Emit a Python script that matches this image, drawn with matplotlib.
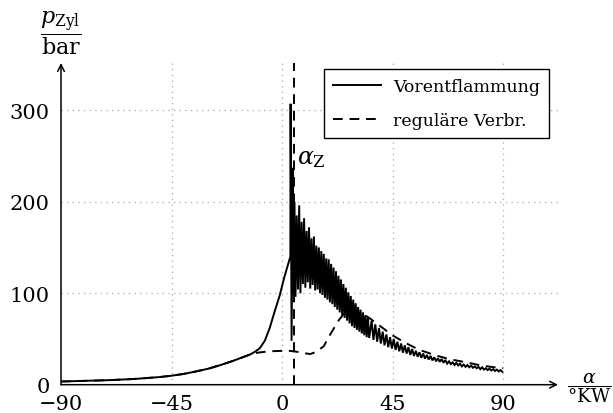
import matplotlib
matplotlib.use("Agg")
import matplotlib.pyplot as plt
import numpy as np

plt.rcParams['font.family'] = ['DejaVu Serif']
plt.rcParams['mathtext.fontset'] = 'dejavuserif'

# ---- data ----
# compression part (shared by both curves until ~ -13 °KW)
comp_x = [-90, -80, -70, -60, -50, -45, -40, -35, -30, -25, -20, -15, -13]
comp_p = [3.5, 4.2, 5.0, 6.3, 8.3, 9.8, 11.8, 14.5, 17.5, 21.5, 26.0, 31.0, 33.0]

# Vorentflammung: steep rise and knocking spike
pre_x = [-11, -9, -7, -5, -3, -1, 1, 2.5, 3.4, 3.5, 3.9, 4.1, 4.4, 4.7]
pre_p = [36, 40, 48, 62, 80, 97, 118, 132, 140, 307, 48, 130, 237, 100]

# knocking oscillation: local maxima and minima
knock_peak_x = [5, 6, 7, 8, 9, 10, 11, 12, 13, 14, 15, 16, 17, 18, 19, 20,
                21, 22, 23, 24, 25, 26, 27, 28, 29, 30, 31, 32, 33, 34, 35,
                36.5, 38.0, 39.5, 41.0, 42.5, 44.0, 45.5, 47.0, 48.5, 50.0, 51.5,
                53.0, 54.5, 56.0, 57.5, 59.0, 60.5, 62.0, 63.5, 65.0, 66.5, 68.0,
                69.5, 71.0, 72.5, 74.0, 75.5, 77.0, 78.5, 80.0, 81.5, 83.0, 84.5,
                86.0, 87.5, 89.0]
knock_peak_p = [200, 185, 196, 178, 182, 168, 172, 160, 162, 152, 150, 146, 143,
                138, 137, 132, 128, 124, 119, 115, 110, 106, 101, 97, 93, 89, 85,
                82, 79, 76, 73,
                70, 66, 62, 58, 55, 52, 50, 47, 45, 43, 41,
                39, 37, 35.5, 34, 32.5, 31.5, 30, 29, 28, 27, 25.5,
                24.5, 24, 23, 22, 21.5, 21, 20, 19.5, 19, 18, 17.5,
                17, 16.5, 16]
knock_trough_x = [5.5, 6.5, 7.5, 8.5, 9.5, 10.5, 11.5, 12.5, 13.5, 14.5, 15.5,
                  16.5, 17.5, 18.5, 19.5, 20.5, 21.5, 22.5, 23.5, 24.5, 25.5,
                  26.5, 27.5, 28.5, 29.5, 30.5, 31.5, 32.5, 33.5, 34.5, 35.5,
                  37.25, 38.75, 40.25, 41.75, 43.25, 44.75, 46.25, 47.75, 49.25,
                  50.75, 52.25, 53.75, 55.25, 56.75, 58.25, 59.75, 61.25, 62.75,
                  64.25, 65.75, 67.25, 68.75, 70.25, 71.75, 73.25, 74.75, 76.25,
                  77.75, 79.25, 80.75, 82.25, 83.75, 85.25, 86.75, 88.25, 89.75]
knock_trough_p = [96, 104, 100, 110, 106, 112, 105, 109, 103, 104, 100, 98, 95,
                  93, 90, 88, 85, 82, 79, 76, 73, 70, 67, 64, 62, 60, 58, 56, 54,
                  52, 51,
                  49, 47, 45, 43, 41, 39.5, 38, 36.5, 35,
                  34, 32.5, 31.5, 30.5, 29.5, 28.5, 27.5, 26.5, 25.5,
                  25, 24, 23, 22.5, 21.5, 21, 20, 19.5, 19,
                  18.5, 18, 17, 16.5, 16, 15.5, 15, 14.5, 14]

# regular combustion after the split
reg_x = [-10, -5, 0, 3, 6, 9, 11.5, 14, 17, 19, 21, 23, 25, 27, 29, 32, 35,
         40, 45, 50, 56, 62, 68, 75, 81, 88, 90]
reg_p = [35, 36.5, 37, 37, 36, 34.5, 33.5, 36, 42, 52, 61, 70, 77, 80.5, 80, 77.5, 74,
         64, 54, 46, 38, 32.5, 28, 24.5, 21, 18.5, 18]

alpha_z = 5
xticks = [-90, -45, 0, 45, 90]
yticks = [0, 100, 200, 300]
legend_labels = ['Vorentflammung', 'reguläre Verbr.']

# ---- build series ----
kx = []
kp = []
for a, b, c, d in zip(knock_peak_x, knock_peak_p, knock_trough_x, knock_trough_p):
    kx += [a, c]
    kp += [b, d]
solid_x = comp_x + pre_x + kx
solid_p = comp_p + pre_p + kp
dash_x = comp_x + reg_x
dash_p = comp_p + reg_p

W, H = 613, 414
fig = plt.figure(figsize=(W / 100, H / 100), dpi=100)
x0, x1 = 61, 558
y0, y1 = 385.7, 64
ax = fig.add_axes([x0 / W, 1 - y0 / H, (x1 - x0) / W, (y0 - y1) / H])
xmin, xmax = -90, -90 + (x1 - x0) / 221 * 90
ymin, ymax = 0, (y0 - y1) / 0.915
ax.set_xlim(xmin, xmax)
ax.set_ylim(ymin, ymax)

for s in ax.spines.values():
    s.set_visible(False)

ax.set_xticks(xticks)
ax.set_yticks(yticks)
ax.set_xticklabels([str(v).replace('-', '\u2212') for v in xticks])
ax.tick_params(axis='both', labelsize=15, length=0)
ax.tick_params(axis='x', pad=7)
ax.tick_params(axis='y', pad=8)

# grid
gkw = dict(color='#a8a8a8', lw=0.9, linestyle=(0, (1, 3.5)), zorder=0)
for xv in xticks[1:]:
    ax.axvline(xv, **gkw)
for yv in yticks[1:]:
    ax.axhline(yv, **gkw)

# axis arrows
ax.annotate('', xy=(1, 0), xytext=(0, 0), xycoords='axes fraction',
            arrowprops=dict(arrowstyle='->', lw=1.1, color='black',
                            shrinkA=0, shrinkB=0, mutation_scale=12))
ax.annotate('', xy=(0, 1), xytext=(0, 0), xycoords='axes fraction',
            arrowprops=dict(arrowstyle='->', lw=1.1, color='black',
                            shrinkA=0, shrinkB=0, mutation_scale=12))

# curves
l1, = ax.plot(solid_x, solid_p, color='black', lw=1.4, solid_joinstyle='miter', zorder=3)
l2, = ax.plot(dash_x, dash_p, color='black', lw=1.4, linestyle=(0, (5, 3.5)), zorder=3)
ax.axvline(alpha_z, color='black', lw=1.4, linestyle=(0, (5, 3.5)), zorder=2)

ax.text(alpha_z + 1.0, 248, r'$\alpha_{\mathrm{Z}}$', fontsize=17, ha='left', va='center')

leg = ax.legend([l1, l2], legend_labels, loc='upper right',
                bbox_to_anchor=(549 / W, 1 - 70 / H), bbox_transform=fig.transFigure,
                fontsize=12.5, frameon=True, fancybox=False, edgecolor='black',
                framealpha=1, borderaxespad=0, handlelength=2.8, handletextpad=0.7,
                borderpad=0.5, labelspacing=1.0)
leg.get_frame().set_linewidth(1.0)

# axis labels as fractions
fig.text(61 / W, 1 - 33 / H, r'$\dfrac{p_{\mathrm{Zyl}}}{\mathrm{bar}}$', fontsize=16,
         ha='center', va='center')
fig.text(589 / W, 1 - 388 / H, r'$\dfrac{\alpha}{\mathrm{°KW}}$', fontsize=13.5,
         ha='center', va='center')

fig.savefig('out.png', dpi=100)
